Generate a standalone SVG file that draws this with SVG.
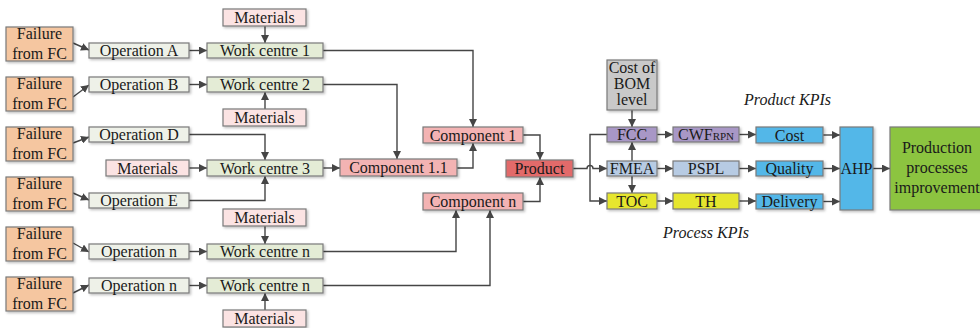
<svg xmlns="http://www.w3.org/2000/svg" width="980" height="328" viewBox="0 0 980 328">
<style>
text{font-family:"Liberation Serif","Times New Roman",serif;font-size:16px;fill:#1a1a1a;text-anchor:middle}
.b{stroke:#7a7a7a;stroke-width:1.2;filter:url(#sh)}
.fail{fill:#f5c6a0}
.op{fill:#eef1e8}
.wc{fill:#e4ecd6}
.mat{fill:#fbe3e3}
.comp{fill:#f3b3b3}
.prd{fill:#e26a6a}
.bom{fill:#c9c9c9}
.pur{fill:#a897c6}
.lb{fill:#b7cbe3}
.yel{fill:#e6e62e}
.blu{fill:#52b7e8}
.grn{fill:#8cc43f}
.it{font-style:italic;text-anchor:start}
#connectors path{fill:none;stroke:#454545;stroke-width:1.4}
.a{marker-end:url(#ah)}
</style>
<defs>
<filter id="sh" x="-10%" y="-10%" width="130%" height="140%">
<feDropShadow dx="1.5" dy="1.5" stdDeviation="0.8" flood-color="#000" flood-opacity="0.25"/>
</filter>
<marker id="ah" viewBox="0 0 10 10" refX="10" refY="5" markerWidth="8" markerHeight="8" markerUnits="userSpaceOnUse" orient="auto">
<path d="M0,0 L10,5 L0,10 Z" fill="#454545"/>
</marker>
</defs>
<rect width="980" height="328" fill="#fff"/>

<g id="connectors">
<path class="a" d="M73,43 L89,50"/>
<path class="a" d="M73,97 L89,85"/>
<path class="a" d="M73,143 L89,137"/>
<path class="a" d="M73,193 L89,200"/>
<path class="a" d="M73,243 L89,252"/>
<path class="a" d="M73,293 L89,285"/>
<path class="a" d="M189,50.5 L207,50.5"/>
<path class="a" d="M189,84.5 L207,84.5"/>
<path class="a" d="M189,251.5 L207,251.5"/>
<path class="a" d="M189,285.5 L207,285.5"/>
<path class="a" d="M189,168 L207,168"/>
<path class="a" d="M265,26 L265,43"/>
<path class="a" d="M265,109 L265,92"/>
<path class="a" d="M189,134.5 L265,134.5 L265,160"/>
<path class="a" d="M189,200.5 L265,200.5 L265,176"/>
<path class="a" d="M265,226 L265,244"/>
<path class="a" d="M265,310 L265,293"/>
<path class="a" d="M323,50.5 L473,50.5 L473,127"/>
<path class="a" d="M323,84.5 L397,84.5 L397,159"/>
<path class="a" d="M323,168 L340,168"/>
<path class="a" d="M457,168 L473,168 L473,143"/>
<path class="a" d="M523,135 L540,135 L540,160"/>
<path class="a" d="M523,201.5 L540,201.5 L540,177"/>
<path class="a" d="M323,251.5 L456,251.5 L456,210"/>
<path class="a" d="M323,285.5 L490,285.5 L490,210"/>
<path class="a" d="M573,168.5 L587,168.5 A3,3 0 0 1 593,168.5 L607,168.5"/>
<path class="a" d="M607,134.5 L590,134.5 L590,201 L607,201"/>
<path class="a" d="M632,110 L632,127"/>
<path class="a" d="M632,161 L632,142"/>
<path class="a" d="M632,176 L632,193"/>
<path class="a" d="M657,134.5 L673,134.5"/>
<path class="a" d="M657,168.5 L673,168.5"/>
<path class="a" d="M657,201 L673,201"/>
<path class="a" d="M739,134.5 L756,134.5"/>
<path class="a" d="M739,168.5 L756,168.5"/>
<path class="a" d="M739,201 L756,201"/>
<path class="a" d="M823,135 L840,135"/>
<path class="a" d="M823,168.5 L840,168.5"/>
<path class="a" d="M823,201.5 L840,201.5"/>
<path class="a" d="M873,168.5 L890,168.5"/>
</g>

<g id="fail1"><rect class="b fail" x="6" y="27" width="67" height="34"/><text x="39.5" y="39">Failure</text><text x="39.5" y="59">from FC</text></g>
<g id="fail2"><rect class="b fail" x="6" y="77" width="67" height="34"/><text x="39.5" y="89">Failure</text><text x="39.5" y="109">from FC</text></g>
<g id="fail3"><rect class="b fail" x="6" y="127" width="67" height="34"/><text x="39.5" y="139">Failure</text><text x="39.5" y="159">from FC</text></g>
<g id="fail4"><rect class="b fail" x="6" y="177" width="67" height="34"/><text x="39.5" y="189">Failure</text><text x="39.5" y="209">from FC</text></g>
<g id="fail5"><rect class="b fail" x="6" y="227" width="67" height="34"/><text x="39.5" y="239">Failure</text><text x="39.5" y="259">from FC</text></g>
<g id="fail6"><rect class="b fail" x="6" y="277" width="67" height="34"/><text x="39.5" y="289">Failure</text><text x="39.5" y="309">from FC</text></g>

<g id="opA"><rect class="b op" x="89" y="43" width="100" height="15"/><text x="139" y="56">Operation A</text></g>
<g id="opB"><rect class="b op" x="89" y="77" width="100" height="15"/><text x="139" y="90">Operation B</text></g>
<g id="opD"><rect class="b op" x="89" y="127" width="100" height="15"/><text x="139" y="140">Operation D</text></g>
<g id="opE"><rect class="b op" x="89" y="193" width="100" height="15"/><text x="139" y="206">Operation E</text></g>
<g id="opN1"><rect class="b op" x="89" y="244" width="100" height="15"/><text x="139" y="257">Operation n</text></g>
<g id="opN2"><rect class="b op" x="89" y="278" width="100" height="15"/><text x="139" y="291">Operation n</text></g>

<g id="wc1"><rect class="b wc" x="207" y="43" width="116" height="15"/><text x="265" y="56">Work centre 1</text></g>
<g id="wc2"><rect class="b wc" x="207" y="77" width="116" height="15"/><text x="265" y="90">Work centre 2</text></g>
<g id="wc3"><rect class="b wc" x="207" y="160" width="116" height="16"/><text x="265" y="173.5">Work centre 3</text></g>
<g id="wcn1"><rect class="b wc" x="207" y="244" width="116" height="15"/><text x="265" y="257">Work centre n</text></g>
<g id="wcn2"><rect class="b wc" x="207" y="278" width="116" height="15"/><text x="265" y="291">Work centre n</text></g>

<g id="mat1"><rect class="b mat" x="223" y="9" width="83" height="17"/><text x="264.5" y="23">Materials</text></g>
<g id="mat2"><rect class="b mat" x="223" y="109" width="83" height="17"/><text x="264.5" y="123">Materials</text></g>
<g id="mat3"><rect class="b mat" x="106" y="160" width="83" height="16"/><text x="147.5" y="173.5">Materials</text></g>
<g id="mat4"><rect class="b mat" x="223" y="209" width="83" height="17"/><text x="264.5" y="223">Materials</text></g>
<g id="mat5"><rect class="b mat" x="223" y="310" width="83" height="17"/><text x="264.5" y="324">Materials</text></g>

<g id="comp1"><rect class="b comp" x="423" y="127" width="100" height="16"/><text x="473" y="140.5">Component 1</text></g>
<g id="comp11"><rect class="b comp" x="340" y="159" width="117" height="17"/><text x="398.5" y="173">Component 1.1</text></g>
<g id="compn"><rect class="b comp" x="423" y="193" width="100" height="17"/><text x="473" y="207">Component n</text></g>
<g id="product"><rect class="b prd" x="506" y="160" width="67" height="17"/><text x="539.5" y="174">Product</text></g>

<g id="bom"><rect class="b bom" x="607" y="60" width="50" height="50"/><text x="632" y="73">Cost of</text><text x="632" y="89">BOM</text><text x="632" y="105">level</text></g>
<g id="fcc"><rect class="b pur" x="607" y="127" width="50" height="15"/><text x="632" y="140">FCC</text></g>
<g id="fmea"><rect class="b lb" x="607" y="161" width="50" height="15"/><text x="632" y="174">FMEA</text></g>
<g id="toc"><rect class="b yel" x="607" y="193" width="50" height="16"/><text x="632" y="206.5">TOC</text></g>

<g id="cwf"><rect class="b pur" x="673" y="127" width="66" height="15"/><text x="706" y="140">CWF<tspan font-size="11">RPN</tspan></text></g>
<g id="pspl"><rect class="b lb" x="673" y="161" width="66" height="15"/><text x="706" y="174">PSPL</text></g>
<g id="th"><rect class="b yel" x="673" y="193" width="66" height="16"/><text x="706" y="206.5">TH</text></g>

<g id="cost"><rect class="b blu" x="756" y="127" width="67" height="16"/><text x="789.5" y="140.5">Cost</text></g>
<g id="quality"><rect class="b blu" x="756" y="161" width="67" height="15"/><text x="789.5" y="174">Quality</text></g>
<g id="delivery"><rect class="b blu" x="756" y="194" width="67" height="15"/><text x="789.5" y="207">Delivery</text></g>

<g id="ahp"><rect class="b blu" x="840" y="127" width="33" height="83"/><text x="856.5" y="174">AHP</text></g>
<g id="improve"><rect class="b grn" x="890" y="127" width="95" height="83"/><text x="937" y="153">Production</text><text x="937" y="173">processes</text><text x="937" y="193">improvement</text></g>

<g id="labels">
<text class="it" x="744" y="105">Product KPIs</text>
<text class="it" x="663" y="238">Process KPIs</text>
</g>
</svg>
